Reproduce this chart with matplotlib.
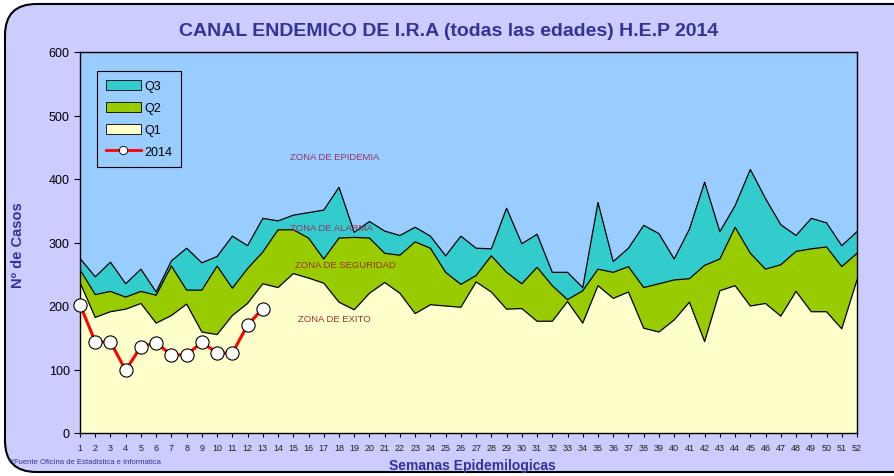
import matplotlib
matplotlib.use("Agg")
import matplotlib.pyplot as plt
from matplotlib.patches import FancyBboxPatch, Patch
from matplotlib.lines import Line2D

plt.rcParams["font.family"] = ["Liberation Sans", "DejaVu Sans"]

# weekly values
weeks = list(range(1, 53))
q1 = [237, 182, 191, 195, 204, 173, 185, 203, 159, 155, 185, 204, 235,
      229, 251, 244, 236, 206, 194, 220, 237, 220, 188, 202, 200, 198,
      238, 222, 195, 196, 176, 176, 207, 173, 232, 212, 222, 165,
      159, 178, 206, 144, 224, 232, 200, 204, 184, 223, 191, 191, 164, 241]
q2 = [257, 218, 223, 214, 223, 217, 263, 225, 225, 263, 228, 259, 285,
      320, 320, 307, 274, 307, 308, 307, 283, 280, 301, 291, 253, 234,
      248, 279, 253, 235, 261, 232, 210, 224, 258, 253, 262, 229,
      235, 241, 243, 264, 274, 324, 283, 258, 265, 286, 290, 293, 262, 283]
q3 = [275, 246, 269, 235, 258, 222, 271, 291, 268, 278, 310, 295, 338,
      334, 343, 347, 351, 387, 316, 333, 318, 311, 324, 310, 279, 310,
      291, 290, 354, 298, 313, 253, 253, 229, 363, 270, 291, 327,
      314, 274, 321, 395, 317, 358, 415, 369, 328, 311, 338, 331, 295, 317]
weeks_2014 = list(range(1, 14))
cases_2014 = [202, 144, 143, 99, 136, 142, 123, 123, 143, 126, 126, 170, 196]

zones = ["ZONA DE EPIDEMIA", "ZONA DE ALARMA", "ZONA DE SEGURIDAD", "ZONA DE EXITO"]

navy = "#333399"
bg_fig = "#CCCCFF"
bg_ax = "#99CCFF"
c_q1 = "#FFFFCC"
c_q2 = "#99CC00"
c_q3 = "#33CCCC"

fig = plt.figure(figsize=(8.94, 4.77), dpi=100)
fig.patch.set_facecolor("white")

# rounded chart-area frame, drawn behind the axes
frame = FancyBboxPatch((5 / 894, 4 / 477), 1.05, 1 - 9 / 477,
                       boxstyle="round,pad=0,rounding_size=0.035",
                       transform=fig.transFigure, facecolor=bg_fig,
                       edgecolor="black", linewidth=1.5, zorder=-10,
                       mutation_aspect=894 / 477)
fig.patches.append(frame)

ax = fig.add_axes([80 / 894, 1 - 434 / 477, 777 / 894, 381 / 477])
ax.set_zorder(1)
ax.set_facecolor(bg_ax)

ax.fill_between(weeks, 0, q1, facecolor=c_q1, edgecolor="none", zorder=1)
ax.fill_between(weeks, q1, q2, facecolor=c_q2, edgecolor="none", zorder=1)
ax.fill_between(weeks, q2, q3, facecolor=c_q3, edgecolor="none", zorder=1)
for s in (q1, q2, q3):
    ax.plot(weeks, s, color="black", linewidth=0.9, zorder=2)

ax.plot(weeks_2014, cases_2014, color="red", linewidth=2.2, marker="o",
        markersize=9.5, markerfacecolor="white", markeredgecolor="black",
        markeredgewidth=0.8, zorder=4, clip_on=False)

ax.set_xlim(1, 52)
ax.set_ylim(0, 600)
ax.set_xticks(weeks)
ax.set_xticklabels([str(w) for w in weeks], fontsize=6.5, color="#222222")
ax.set_yticks(range(0, 601, 100))
ax.tick_params(axis="y", labelsize=9, length=4, direction="out", color="black")
ax.tick_params(axis="x", length=3, direction="out", color="black", pad=4)
for sp in ax.spines.values():
    sp.set_color("black")
    sp.set_linewidth(1.0)

# zone labels
zone_kw = dict(fontsize=6.8, ha="center", va="center", zorder=3)
ax.text(17.7, 435, zones[0], color="#993366", **zone_kw)
ax.text(17.5, 323, zones[1], color="#993366", **zone_kw)
ax.text(18.4, 265, zones[2], color="#993300", **zone_kw)
ax.text(17.7, 180, zones[3], color="#993333", **zone_kw)

handles = [Patch(facecolor=c_q3, edgecolor="black", linewidth=0.6),
           Patch(facecolor=c_q2, edgecolor="black", linewidth=0.6),
           Patch(facecolor=c_q1, edgecolor="black", linewidth=0.6),
           Line2D([], [], color="red", linewidth=2, marker="o", markersize=6,
                  markerfacecolor="white", markeredgecolor="black", markeredgewidth=0.6)]
leg = ax.legend(handles, ["Q3", "Q2", "Q1", "2014"], loc="upper left",
                bbox_to_anchor=(0.022, 0.95), borderaxespad=0, fontsize=9,
                frameon=True, fancybox=False, facecolor=bg_ax, edgecolor="black",
                framealpha=1, handlelength=2.8, handleheight=0.9,
                labelspacing=0.75, borderpad=0.7, handletextpad=0.3)
leg.get_frame().set_linewidth(0.8)
leg.set_zorder(5)

fig.text(449 / 894, 1 - 31 / 477, "CANAL ENDEMICO DE I.R.A (todas las edades) H.E.P 2014",
         ha="center", va="center", fontsize=14, fontweight="bold", color=navy)
fig.text(18 / 894, 1 - 245 / 477, "Nº de Casos", rotation=90, ha="center",
         va="center", fontsize=10.5, fontweight="bold", color=navy)
fig.text(472 / 894, 1 - 466 / 477, "Semanas Epidemilogicas", ha="center",
         va="center", fontsize=10, fontweight="bold", color=navy)
fig.text(8 / 894, 1 - 463 / 477, "**Fuente Oficina de Estadistica e Informatica",
         ha="left", va="center", fontsize=5.5, color=navy)

fig.savefig("out.png", dpi=100, facecolor=fig.get_facecolor())
